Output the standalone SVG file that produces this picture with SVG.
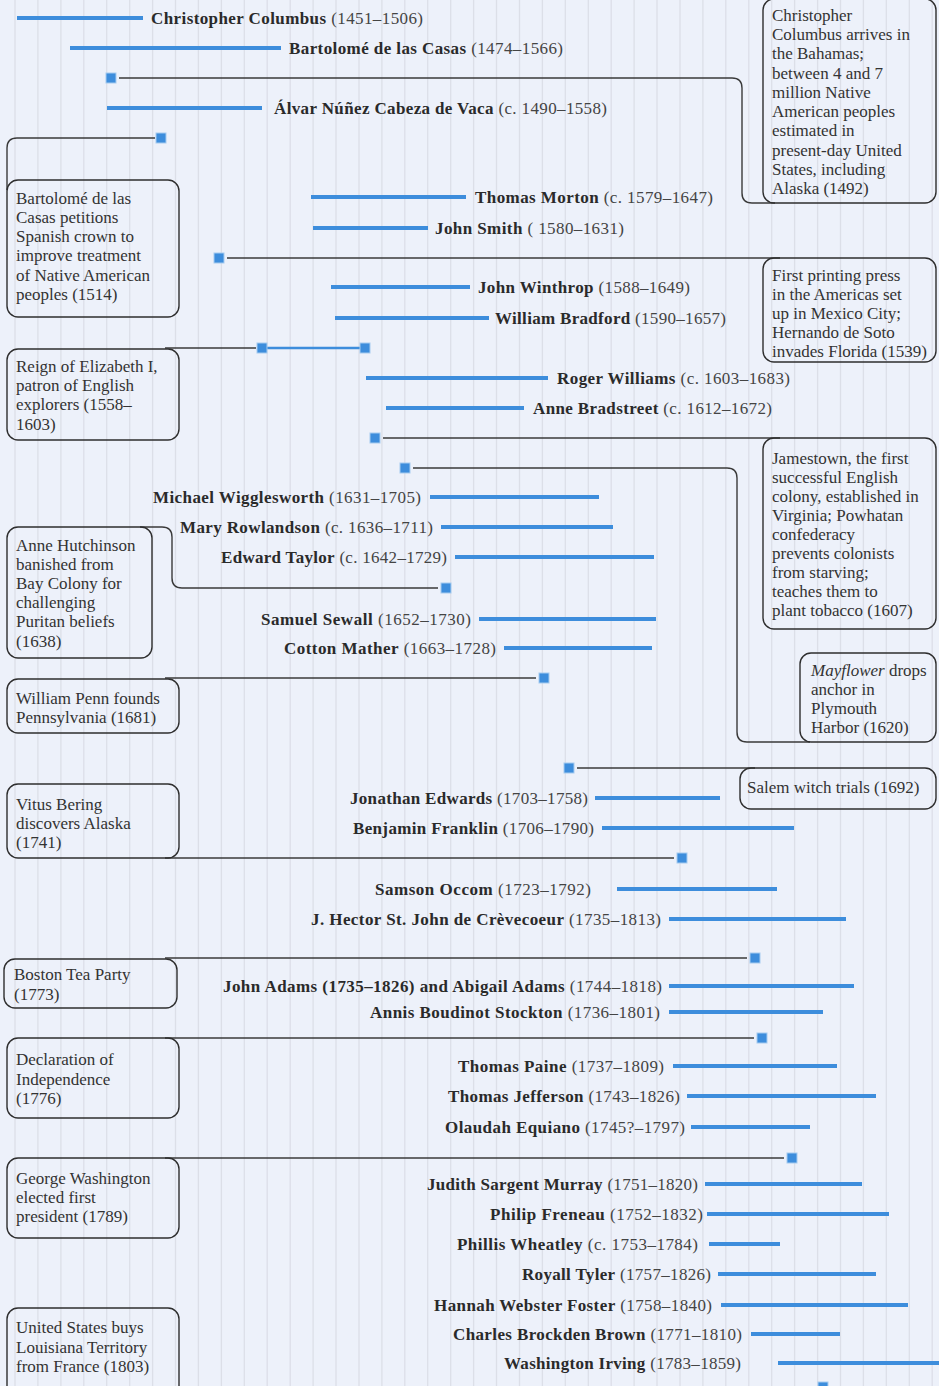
<svg xmlns="http://www.w3.org/2000/svg" width="939" height="1386" viewBox="0 0 939 1386">
<style>
.bg{fill:#edf1fa}
.grid{stroke:#dcdfe8;stroke-width:1.3;fill:none}
.bar{stroke:#3d8ddc;stroke-width:4;fill:none}
.sq{fill:#3d8ddc;stroke:#a6cbef;stroke-width:1}
.con{stroke:#3a3a3a;stroke-width:1.4;fill:none}
.box{stroke:#2e2e2e;stroke-width:1.4;fill:none}
.lbl{font-family:'Liberation Serif','Times New Roman',serif;font-size:17px;fill:#444}
.b{font-weight:bold;fill:#2a2a2a}
.t{font-family:'Liberation Serif','Times New Roman',serif;font-size:17px;fill:#333}
</style>
<rect class="bg" x="0" y="0" width="939" height="1386"/>
<path class="grid" d="M15,0V1386M37.9,0V1386M60.9,0V1386M83.8,0V1386M106.7,0V1386M129.7,0V1386M152.6,0V1386M175.5,0V1386M198.4,0V1386M221.4,0V1386M244.3,0V1386M267.2,0V1386M290.2,0V1386M313.1,0V1386M336,0V1386M359,0V1386M381.9,0V1386M404.8,0V1386M427.7,0V1386M450.7,0V1386M473.6,0V1386M496.5,0V1386M519.5,0V1386M542.4,0V1386M565.3,0V1386M588.3,0V1386M611.2,0V1386M634.1,0V1386M657,0V1386M680,0V1386M702.9,0V1386M725.8,0V1386M748.8,0V1386M771.7,0V1386M794.6,0V1386M817.6,0V1386M840.5,0V1386M863.4,0V1386M886.3,0V1386M909.3,0V1386M932.2,0V1386"/>

<g id="connectors">
<path class="con" d="M119,78H732Q742,78 742,88V193Q742,203 752,203H775"/>
<path class="con" d="M155,138H17Q7,138 7,148V190"/>
<path class="con" d="M227,258H780"/>
<path class="con" d="M256,348H165"/>
<path class="bar" style="stroke-width:2.5" d="M262,348H365"/>
<path class="con" d="M383,438H780"/>
<path class="con" d="M413,468H727Q737,468 737,478V732Q737,742 747,742H810"/>
<path class="con" d="M438,588H182Q172,588 172,578V537Q172,527 162,527H140"/>
<path class="con" d="M536,678H165"/>
<path class="con" d="M577,768H755"/>
<path class="con" d="M674,858H165"/>
<path class="con" d="M747,958H165"/>
<path class="con" d="M754,1038H165"/>
<path class="con" d="M784,1158H165"/>
</g>

<g id="markers">
<rect class="sq" x="106" y="73" width="10" height="10"/>
<rect class="sq" x="156" y="133" width="10" height="10"/>
<rect class="sq" x="214" y="253" width="10" height="10"/>
<rect class="sq" x="257" y="343" width="10" height="10"/>
<rect class="sq" x="360" y="343" width="10" height="10"/>
<rect class="sq" x="370" y="433" width="10" height="10"/>
<rect class="sq" x="400" y="463" width="10" height="10"/>
<rect class="sq" x="441" y="583" width="10" height="10"/>
<rect class="sq" x="539" y="673" width="10" height="10"/>
<rect class="sq" x="564" y="763" width="10" height="10"/>
<rect class="sq" x="677" y="853" width="10" height="10"/>
<rect class="sq" x="750" y="953" width="10" height="10"/>
<rect class="sq" x="757" y="1033" width="10" height="10"/>
<rect class="sq" x="787" y="1153" width="10" height="10"/>
<rect class="sq" x="818" y="1382" width="10" height="10"/>
</g>

<g id="p-columbus"><path class="bar" d="M17,18H143"/><text class="lbl" x="151" y="23.5" textLength="272"><tspan class="b">Christopher Columbus</tspan> (1451–1506)</text></g>
<g id="p-casas"><path class="bar" d="M70,48H281"/><text class="lbl" x="289" y="53.5" textLength="274"><tspan class="b">Bartolomé de las Casas</tspan> (1474–1566)</text></g>
<g id="p-vaca"><path class="bar" d="M107,108H262"/><text class="lbl" x="274" y="113.5" textLength="333"><tspan class="b">Álvar Núñez Cabeza de Vaca</tspan> (c. 1490–1558)</text></g>
<g id="p-morton"><path class="bar" d="M311,197H466"/><text class="lbl" x="475" y="202.5" textLength="238"><tspan class="b">Thomas Morton</tspan> (c. 1579–1647)</text></g>
<g id="p-smith"><path class="bar" d="M313,228H428"/><text class="lbl" x="435" y="233.5" textLength="189"><tspan class="b">John Smith</tspan> ( 1580–1631)</text></g>
<g id="p-winthrop"><path class="bar" d="M331,287H470"/><text class="lbl" x="478" y="292.5" textLength="212"><tspan class="b">John Winthrop</tspan> (1588–1649)</text></g>
<g id="p-bradford"><path class="bar" d="M335,318H489"/><text class="lbl" x="495" y="323.5" textLength="231"><tspan class="b">William Bradford</tspan> (1590–1657)</text></g>
<g id="p-williams"><path class="bar" d="M366,378H548"/><text class="lbl" x="557" y="383.5" textLength="233"><tspan class="b">Roger Williams</tspan> (c. 1603–1683)</text></g>
<g id="p-bradstreet"><path class="bar" d="M386,408H524"/><text class="lbl" x="533" y="413.5" textLength="239"><tspan class="b">Anne Bradstreet</tspan> (c. 1612–1672)</text></g>
<g id="p-wigglesworth"><path class="bar" d="M430,497H599"/><text class="lbl" x="153" y="502.5" textLength="268"><tspan class="b">Michael Wigglesworth</tspan> (1631–1705)</text></g>
<g id="p-rowlandson"><path class="bar" d="M441,527H613"/><text class="lbl" x="180" y="532.5" textLength="253"><tspan class="b">Mary Rowlandson</tspan> (c. 1636–1711)</text></g>
<g id="p-taylor"><path class="bar" d="M455,557H654"/><text class="lbl" x="221" y="562.5" textLength="226"><tspan class="b">Edward Taylor</tspan> (c. 1642–1729)</text></g>
<g id="p-sewall"><path class="bar" d="M479,619H656"/><text class="lbl" x="261" y="624.5" textLength="210"><tspan class="b">Samuel Sewall</tspan> (1652–1730)</text></g>
<g id="p-mather"><path class="bar" d="M504,648H652"/><text class="lbl" x="284" y="653.5" textLength="212"><tspan class="b">Cotton Mather</tspan> (1663–1728)</text></g>
<g id="p-edwards"><path class="bar" d="M595,798H720"/><text class="lbl" x="350" y="803.5" textLength="238"><tspan class="b">Jonathan Edwards</tspan> (1703–1758)</text></g>
<g id="p-franklin"><path class="bar" d="M602,828H794"/><text class="lbl" x="353" y="833.5" textLength="241"><tspan class="b">Benjamin Franklin</tspan> (1706–1790)</text></g>
<g id="p-occom"><path class="bar" d="M617,889H777"/><text class="lbl" x="375" y="894.5" textLength="216"><tspan class="b">Samson Occom</tspan> (1723–1792)</text></g>
<g id="p-crevecoeur"><path class="bar" d="M669,919H846"/><text class="lbl" x="311" y="924.5" textLength="350"><tspan class="b">J. Hector St. John de Crèvecoeur</tspan> (1735–1813)</text></g>
<g id="p-adams"><path class="bar" d="M669,986H854"/><text class="lbl" x="223" y="991.5" textLength="439"><tspan class="b">John Adams (1735–1826) and Abigail Adams</tspan> (1744–1818)</text></g>
<g id="p-stockton"><path class="bar" d="M669,1012H823"/><text class="lbl" x="370" y="1017.5" textLength="290"><tspan class="b">Annis Boudinot Stockton</tspan> (1736–1801)</text></g>
<g id="p-paine"><path class="bar" d="M673,1066H837"/><text class="lbl" x="458" y="1071.5" textLength="206"><tspan class="b">Thomas Paine</tspan> (1737–1809)</text></g>
<g id="p-jefferson"><path class="bar" d="M687,1096H876"/><text class="lbl" x="448" y="1101.5" textLength="232"><tspan class="b">Thomas Jefferson</tspan> (1743–1826)</text></g>
<g id="p-equiano"><path class="bar" d="M691,1127H810"/><text class="lbl" x="445" y="1132.5" textLength="240"><tspan class="b">Olaudah Equiano</tspan> (1745?–1797)</text></g>
<g id="p-murray"><path class="bar" d="M705,1184H862"/><text class="lbl" x="427" y="1189.5" textLength="271"><tspan class="b">Judith Sargent Murray</tspan> (1751–1820)</text></g>
<g id="p-freneau"><path class="bar" d="M707,1214H889"/><text class="lbl" x="490" y="1219.5" textLength="213"><tspan class="b">Philip Freneau</tspan> (1752–1832)</text></g>
<g id="p-wheatley"><path class="bar" d="M709,1244H780"/><text class="lbl" x="457" y="1249.5" textLength="241"><tspan class="b">Phillis Wheatley</tspan> (c. 1753–1784)</text></g>
<g id="p-tyler"><path class="bar" d="M718,1274H876"/><text class="lbl" x="522" y="1279.5" textLength="189"><tspan class="b">Royall Tyler</tspan> (1757–1826)</text></g>
<g id="p-foster"><path class="bar" d="M721,1305H908"/><text class="lbl" x="434" y="1310.5" textLength="278"><tspan class="b">Hannah Webster Foster</tspan> (1758–1840)</text></g>
<g id="p-brown"><path class="bar" d="M751,1334H840"/><text class="lbl" x="453" y="1339.5" textLength="289"><tspan class="b">Charles Brockden Brown</tspan> (1771–1810)</text></g>
<g id="p-irving"><path class="bar" d="M778,1363H941"/><text class="lbl" x="504" y="1368.5" textLength="237"><tspan class="b">Washington Irving</tspan> (1783–1859)</text></g>

<g id="e-columbus"><rect class="box" x="763" y="-1" width="173" height="204" rx="11"/>
<text class="t"><tspan x="772" y="20.5">Christopher</tspan><tspan x="772" y="40">Columbus arrives in</tspan><tspan x="772" y="59">the Bahamas;</tspan><tspan x="772" y="78.5">between 4 and 7</tspan><tspan x="772" y="97.5">million Native</tspan><tspan x="772" y="117">American peoples</tspan><tspan x="772" y="136">estimated in</tspan><tspan x="772" y="155.5">present-day United</tspan><tspan x="772" y="174.5">States, including</tspan><tspan x="772" y="194">Alaska (1492)</tspan></text></g>
<g id="e-casas"><rect class="box" x="7" y="180" width="172" height="137" rx="11"/>
<text class="t"><tspan x="16" y="203.5">Bartolomé de las</tspan><tspan x="16" y="222.5">Casas petitions</tspan><tspan x="16" y="242">Spanish crown to</tspan><tspan x="16" y="261">improve treatment</tspan><tspan x="16" y="280.5">of Native American</tspan><tspan x="16" y="299.5">peoples (1514)</tspan></text></g>
<g id="e-press"><rect class="box" x="763" y="258" width="173" height="104" rx="11"/>
<text class="t"><tspan x="772" y="280.5">First printing press</tspan><tspan x="772" y="299.5">in the Americas set</tspan><tspan x="772" y="318.5">up in Mexico City;</tspan><tspan x="772" y="337.5">Hernando de Soto</tspan><tspan x="772" y="356.5">invades Florida (1539)</tspan></text></g>
<g id="e-elizabeth"><rect class="box" x="7" y="349" width="172" height="91" rx="11"/>
<text class="t"><tspan x="16" y="371.5">Reign of Elizabeth I,</tspan><tspan x="16" y="391">patron of English</tspan><tspan x="16" y="410">explorers (1558–</tspan><tspan x="16" y="429.5">1603)</tspan></text></g>
<g id="e-jamestown"><rect class="box" x="763" y="438" width="173" height="191" rx="11"/>
<text class="t"><tspan x="772" y="463.5">Jamestown, the first</tspan><tspan x="772" y="482.5">successful English</tspan><tspan x="772" y="501.5">colony, established in</tspan><tspan x="772" y="520.5">Virginia; Powhatan</tspan><tspan x="772" y="539.5">confederacy</tspan><tspan x="772" y="559">prevents colonists</tspan><tspan x="772" y="578">from starving;</tspan><tspan x="772" y="597">teaches them to</tspan><tspan x="772" y="616">plant tobacco (1607)</tspan></text></g>
<g id="e-hutchinson"><rect class="box" x="7" y="527" width="145" height="131" rx="11"/>
<text class="t"><tspan x="16" y="550.5">Anne Hutchinson</tspan><tspan x="16" y="569.5">banished from</tspan><tspan x="16" y="588.5">Bay Colony for</tspan><tspan x="16" y="608">challenging</tspan><tspan x="16" y="627">Puritan beliefs</tspan><tspan x="16" y="646.5">(1638)</tspan></text></g>
<g id="e-mayflower"><rect class="box" x="800" y="653" width="136" height="89" rx="11"/>
<text class="t"><tspan x="811" y="675.5"><tspan font-style="italic">Mayflower</tspan> drops</tspan><tspan x="811" y="694.5">anchor in</tspan><tspan x="811" y="713.5">Plymouth</tspan><tspan x="811" y="732.5">Harbor (1620)</tspan></text></g>
<g id="e-penn"><rect class="box" x="7" y="679" width="172" height="54" rx="11"/>
<text class="t"><tspan x="16" y="703.5">William Penn founds</tspan><tspan x="16" y="722.5">Pennsylvania (1681)</tspan></text></g>
<g id="e-salem"><rect class="box" x="740" y="768" width="196" height="41" rx="11"/>
<text class="t" x="747" y="792.5">Salem witch trials (1692)</text></g>
<g id="e-bering"><rect class="box" x="7" y="784" width="172" height="74" rx="11"/>
<text class="t"><tspan x="16" y="809.5">Vitus Bering</tspan><tspan x="16" y="828.5">discovers Alaska</tspan><tspan x="16" y="847.5">(1741)</tspan></text></g>
<g id="e-boston"><rect class="box" x="4" y="959" width="173" height="49" rx="11"/>
<text class="t"><tspan x="14" y="979.5">Boston Tea Party</tspan><tspan x="14" y="999.5">(1773)</tspan></text></g>
<g id="e-declaration"><rect class="box" x="7" y="1038" width="172" height="80" rx="11"/>
<text class="t"><tspan x="16" y="1064.5">Declaration of</tspan><tspan x="16" y="1084.5">Independence</tspan><tspan x="16" y="1103.5">(1776)</tspan></text></g>
<g id="e-washington"><rect class="box" x="7" y="1158" width="172" height="80" rx="11"/>
<text class="t"><tspan x="16" y="1183.5">George Washington</tspan><tspan x="16" y="1202.5">elected first</tspan><tspan x="16" y="1221.5">president (1789)</tspan></text></g>
<g id="e-louisiana"><rect class="box" x="7" y="1308" width="172" height="92" rx="11"/>
<text class="t"><tspan x="16" y="1332.5">United States buys</tspan><tspan x="16" y="1352.5">Louisiana Territory</tspan><tspan x="16" y="1371.5">from France (1803)</tspan></text></g>
</svg>
